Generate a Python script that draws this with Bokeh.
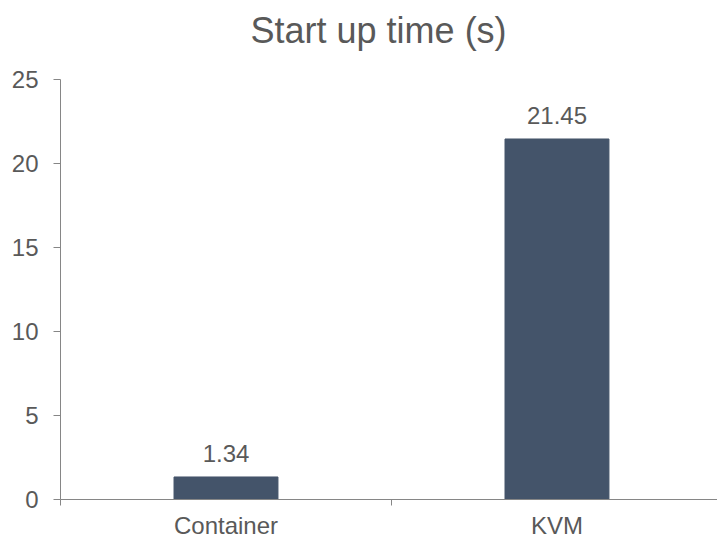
from bokeh.plotting import figure
from bokeh.models import Range1d, FixedTicker, ColumnDataSource, LabelSet, Label
from bokeh.core.properties import value
from bokeh.embed import file_html
from bokeh.resources import INLINE

categories = ["Container", "KVM"]
values = [1.34, 21.45]
value_labels = ["1.34", "21.45"]
y_ticks = [0, 5, 10, 15, 20, 25]
title_text = "Start up time (s)"

FONT = "Liberation Sans"
TXT = "#595959"
AX = "#868686"
BAR = "#44546A"

xs = [i + 0.5 for i in range(len(categories))]
src = ColumnDataSource(dict(x=xs, top=values, lab=value_labels))

p = figure(width=717, height=541, output_backend="svg", toolbar_location=None,
           title=None,
           x_range=Range1d(0, 1.985), y_range=Range1d(0, 29.69),
           min_border_left=60, min_border_right=0, min_border_top=0, min_border_bottom=0)
p.outline_line_color = None
p.xgrid.visible = False
p.ygrid.visible = False

p.vbar(x="x", top="top", width=0.314, source=src, color=BAR)

labels = LabelSet(x="x", y="top", text="lab", source=src, y_offset=15,
                  text_align="center", text_baseline="alphabetic",
                  text_font=value(FONT), text_font_size="24px", text_color=TXT)
p.add_layout(labels)

title = Label(x=0.961, y=25, y_offset=49, text=title_text,
              text_align="center", text_baseline="middle",
              text_font=FONT, text_font_size="36px", text_color=TXT)
p.add_layout(title)

ya = p.yaxis[0]
ya.bounds = (0, 25)
ya.ticker = FixedTicker(ticks=y_ticks)
ya.axis_line_color = AX
ya.major_tick_line_color = AX
ya.major_tick_out = 7
ya.major_tick_in = 0
ya.minor_tick_line_color = None
ya.major_label_standoff = 15
ya.major_label_text_font = FONT
ya.major_label_text_font_size = "24px"
ya.major_label_text_color = TXT

xa = p.xaxis[0]
xa.ticker = FixedTicker(ticks=xs, minor_ticks=[0, 1, 2])
xa.major_label_overrides = {x: c for x, c in zip(xs, categories)}
xa.axis_line_color = AX
xa.major_tick_line_color = None
xa.major_tick_out = 0
xa.major_tick_in = 0
xa.minor_tick_line_color = AX
xa.minor_tick_out = 6
xa.minor_tick_in = 0
xa.major_label_standoff = 6
xa.major_label_text_font = FONT
xa.major_label_text_font_size = "24px"
xa.major_label_text_color = TXT

open("out.html", "w").write(file_html(p, INLINE))
